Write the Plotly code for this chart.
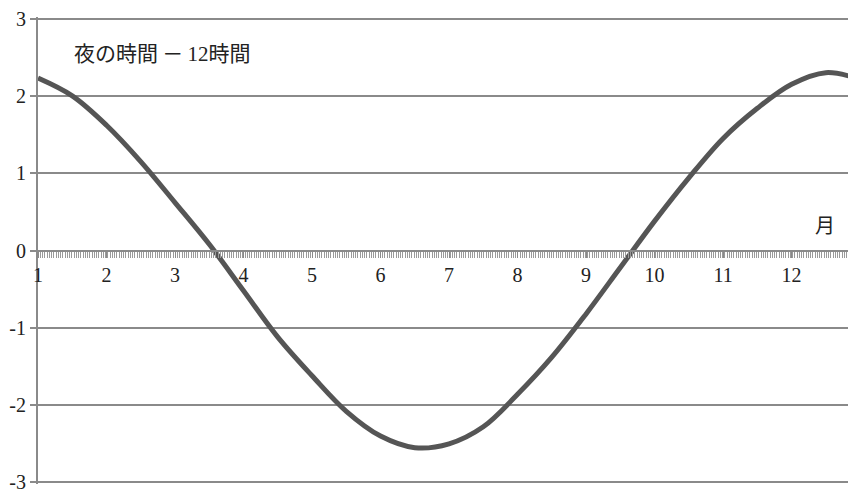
import plotly.graph_objects as go

# Month positions (1 = Jan 1) and night length minus 12 h (hours)
months = [1.0, 1.5, 2.0, 2.5, 3.0, 3.5, 4.0, 4.5, 5.0, 5.5, 6.0, 6.5, 7.0, 7.5, 8.0,
          8.5, 9.0, 9.5, 10.0, 10.5, 11.0, 11.5, 12.0, 12.5, 12.94]
night_minus_12 = [2.23, 2.00, 1.62, 1.15, 0.62, 0.08, -0.52, -1.12, -1.62, -2.08, -2.40,
                  -2.55, -2.50, -2.28, -1.86, -1.38, -0.82, -0.22, 0.38, 0.94, 1.45,
                  1.84, 2.15, 2.30, 2.23]
month_ticks = list(range(1, 13))
y_ticks = [-3, -2, -1, 0, 1, 2, 3]

FONT = "Liberation Serif, DejaVu Serif, Noto Sans CJK JP"
GRAY = "#8a8a8a"
TXT = "#222222"

fig = go.Figure()
fig.add_trace(go.Scatter(
    x=months, y=night_minus_12, mode="lines",
    line=dict(color="#555555", width=5, shape="spline", smoothing=1.0),
    showlegend=False, hoverinfo="skip"))

# page body has an 8px margin, so the figure is offset by 8px
fig.update_layout(
    width=848, height=485,
    margin=dict(l=30, r=0, t=6, b=8),
    paper_bgcolor="white", plot_bgcolor="white",
    font=dict(family=FONT, size=20, color=TXT),
    xaxis=dict(
        range=[1, 12.94], anchor="free", position=0.5,
        tickvals=month_ticks, ticktext=[str(m) for m in month_ticks],
        showgrid=False, zeroline=False,
        showline=True, linecolor=GRAY, linewidth=2,
        ticks="outside", ticklen=6, tickcolor=GRAY, tickwidth=1,
        minor=dict(dtick=12/365, tick0=1, ticks="outside", ticklen=6,
                   tickcolor="#9a9a9a", tickwidth=1, showgrid=False),
        tickfont=dict(family=FONT, size=20, color=TXT),
        ticklabeloverflow="allow",
    ),
    yaxis=dict(
        range=[-3.02, 3.02], tickvals=y_ticks, ticktext=[str(v) for v in y_ticks],
        showgrid=True, gridcolor=GRAY, gridwidth=1.5,
        zeroline=False,
        showline=True, linecolor=GRAY, linewidth=2,
        ticks="outside", ticklen=6, tickcolor=GRAY, tickwidth=1.5,
        tickfont=dict(family=FONT, size=20, color=TXT),
        ticklabeloverflow="allow",
    ),
    annotations=[
        dict(text="夜の時間\u2009－\u200912時間", xref="paper", yref="paper",
             x=0.042, y=0.92, xanchor="left", yanchor="middle", showarrow=False,
             font=dict(family=FONT, size=21, color=TXT)),
        dict(text="月", xref="x", yref="y", x=12.49, y=0.32,
             xanchor="center", yanchor="middle", showarrow=False,
             font=dict(family=FONT, size=20, color=TXT)),
    ],
)

fig.write_html("out.html")
